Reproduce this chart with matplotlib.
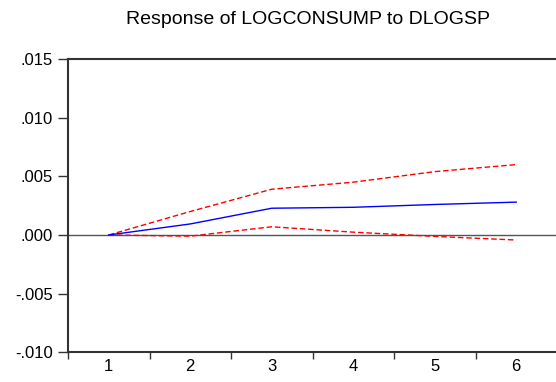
import matplotlib
matplotlib.use("Agg")
import matplotlib.pyplot as plt

periods = [1, 2, 3, 4, 5, 6]
response = [0.0, 0.00094, 0.00228, 0.00236, 0.0026, 0.0028]
upper_band = [0.0, 0.0020, 0.0039, 0.0045, 0.0054, 0.0060]
lower_band = [0.0, -0.0001, 0.0007, 0.00024, -0.00012, -0.00043]
y_ticks = [-0.010, -0.005, 0.000, 0.005, 0.010, 0.015]
y_labels = ["-.010", "-.005", ".000", ".005", ".010", ".015"]
title = "Response of LOGCONSUMP to DLOGSP"

plt.rcParams['font.family'] = ['Liberation Sans', 'DejaVu Sans']

fig = plt.figure(figsize=(5.56, 3.82), dpi=100)
W, H = 556, 382
left, right, top, bottom = 68, 557, 59, 352.3
ax = fig.add_axes([left / W, 1 - bottom / H, (right - left) / W, (bottom - top) / H])

ax.axhline(0, color="#555555", lw=1.0, zorder=1)
ax.plot(periods, response, color="#0000ff", lw=1.0, zorder=3)
ax.plot(periods, upper_band, color="#ff0000", lw=1.0, ls=(0, (4, 2)), zorder=2)
ax.plot(periods, lower_band, color="#ff0000", lw=1.0, ls=(0, (4, 2)), zorder=2)

ax.set_xlim(0.5, 6.5)
ax.set_ylim(-0.010, 0.015)
ax.set_yticks(y_ticks)
ax.set_yticklabels(y_labels)

ax.set_xticks([p + 0.5 for p in [0] + periods[:-1]], minor=False)
ax.set_xticklabels([])
ax.set_xticks(periods, minor=True)
ax.set_xticklabels([str(p) for p in periods], minor=True)
ax.tick_params(axis="x", which="minor", length=0, pad=5, labelsize=12)
ax.tick_params(axis="x", which="major", length=5, width=1, color="#333333", direction="out")
ax.tick_params(axis="y", length=7, width=1, color="#333333", direction="out", labelsize=12, pad=4)

for s in ["left", "bottom", "top"]:
    ax.spines[s].set_color("#333333")
    ax.spines[s].set_linewidth(1.5)
ax.spines["right"].set_visible(False)

fig.text(0.554, 1 - 20 / H, title, ha="center", va="center", fontsize=14)

fig.savefig("out.png", dpi=100)
